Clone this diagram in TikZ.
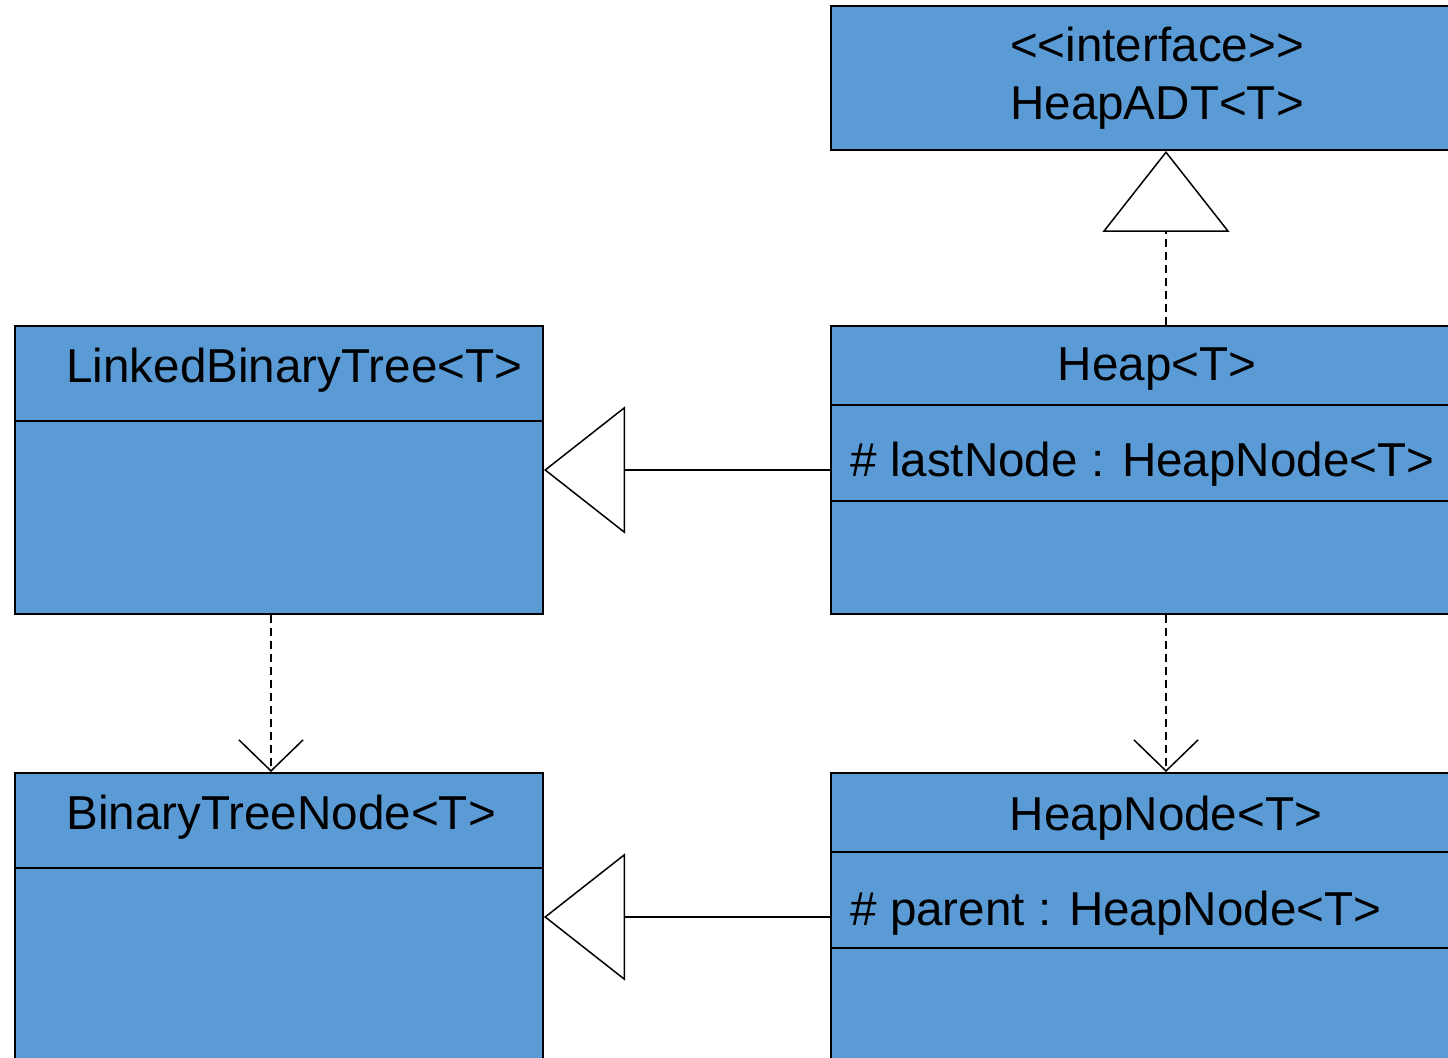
\documentclass[tikz,border=0pt]{standalone}
\usepackage{fontspec}
\setmainfont{Liberation Sans}
\usetikzlibrary{arrows.meta}
\usepackage{xcolor}
\definecolor{azul}{RGB}{91,155,213}

\begin{document}
\begin{tikzpicture}[x=0.5pt,y=-0.5pt,
	clase/.style={draw,fill=azul,line width=1pt,rectangle,inner sep=0pt,anchor=north west,minimum height=144pt},
	texto/.style={font=\fontsize{23.8}{29}\selectfont,inner sep=0pt},
	herencia/.style={line width=0.75pt,-{Triangle[open,length=40.5pt,width=63.5pt]}},
	dependencia/.style={line width=0.75pt,dash pattern=on 4pt off 2.5pt,-{Straight Barb[length=15.5pt,width=32pt]}}]
			\useasboundingbox (0,0) rectangle (1448,1058);
			\clip (0,0) rectangle (1448,1058);
			%clases
			\node[clase,minimum width=335pt,minimum height=72pt] (adt) at (830,5) {};
			\node[clase,minimum width=335pt] (heap) at (830,325) {};
			\node[clase,minimum width=264pt] (lbt) at (14,325) {};
			\node[clase,minimum width=264pt] (btn) at (14,772) {};
			\node[clase,minimum width=335pt] (hnode) at (830,772) {};
			%compartimentos
			\draw[line width=1pt] (lbt.north west) ++(0,96) -- ++(528,0);
			\draw[line width=1pt] (btn.north west) ++(0,96) -- ++(528,0);
			\draw[line width=1pt] (heap.north west) ++(0,80) -- ++(670,0);
			\draw[line width=1pt] (heap.north west) ++(0,176) -- ++(670,0);
			\draw[line width=1pt] (hnode.north west) ++(0,80) -- ++(670,0);
			\draw[line width=1pt] (hnode.north west) ++(0,176) -- ++(670,0);
			%nombres
			\node[texto,anchor=base] (adtestereo) at (1157,62) {<\kern0pt<interface>\kern0pt>};
			\node[texto,anchor=base] (adtnombre) at (1157,120) {HeapADT<T>};
			\node[texto,anchor=base] (heapnombre) at (1157,381) {Heap<T>};
			\node[texto,anchor=base west] (heapattr) at (850,477) {\# lastNode : HeapNode<T>};
			\node[texto,anchor=base west] (lbtnombre) at (66,383) {LinkedBinaryTree<T>};
			\node[texto,anchor=base west] (btnnombre) at (66,830) {BinaryTreeNode<T>};
			\node[texto,anchor=base] (hnodenombre) at (1166,831) {HeapNode<T>};
			\node[texto,anchor=base west] (hnodeattr) at (850,926) {\# parent : HeapNode<T>};
			%flechas
			\draw[herencia,dash pattern=on 4pt off 2.5pt] (heap.north) -- (adt.south);
			\draw[herencia] (heap.west) -- (lbt.east);
			\draw[herencia] (hnode.west) -- (btn.east);
			\draw[dependencia] ([xshift=-4pt]lbt.south) -- ([xshift=-4pt]btn.north);
			\draw[dependencia] (heap.south) -- (hnode.north);
		\end{tikzpicture}
\end{document}
